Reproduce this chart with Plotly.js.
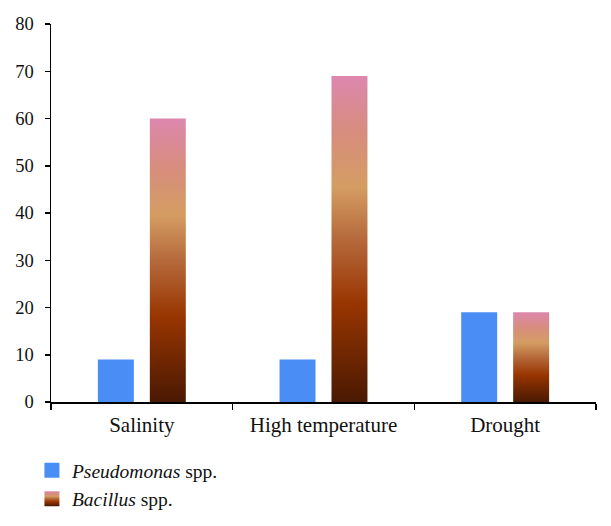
<!DOCTYPE html>
<html>
<head>
<meta charset="utf-8">
<script src="https://cdn.plot.ly/plotly-3.0.1.min.js"></script>
<style>
  html, body { margin: 0; padding: 0; background: #fff; }
  #chart { width: 611px; height: 526px; }
</style>
</head>
<body>
<div id="chart"></div>
<script>
// stress conditions
var stresses = ['Salinity', 'High temperature', 'Drought'];
var pseudomonas = [9, 9, 19];
var bacillus = [60, 69, 19];

var trace1 = {
    x: stresses,
    y: pseudomonas,
    type: 'bar',
    name: '<i>Pseudomonas</i> spp.',
    marker: { color: '#4a8ef5' },
    width: 0.198,
    offset: -0.242,
    hoverinfo: 'skip'
};

var trace2 = {
    x: stresses,
    y: bacillus,
    type: 'bar',
    name: '<i>Bacillus</i> spp.',
    marker: { color: '#b06030' },
    width: 0.198,
    offset: 0.044,
    hoverinfo: 'skip'
};

var fam = '"Liberation Serif", "DejaVu Serif", serif';

var layout = {
    width: 611,
    height: 526,
    margin: { l: 51, r: 15, t: 24, b: 124, autoexpand: false },
    paper_bgcolor: '#fff',
    plot_bgcolor: '#fff',
    font: { family: fam, size: 18, color: '#111' },
    barmode: 'group',
    showlegend: true,
    legend: {
        orientation: 'v',
        x: -0.035, xanchor: 'left',
        y: -0.13, yanchor: 'top',
        font: { family: fam, size: 19.5, color: '#111' },
        itemwidth: 30,
        tracegroupgap: 0
    },
    xaxis: {
        type: 'category',
        automargin: false,
        showline: true,
        linecolor: '#000',
        linewidth: 1.5,
        ticks: 'outside',
        tickson: 'boundaries',
        ticklen: 6,
        tickcolor: '#000',
        tickwidth: 1.5,
        showgrid: false,
        zeroline: false,
        ticklabelstandoff: 3,
        tickfont: { family: fam, size: 21, color: '#111' }
    },
    yaxis: {
        range: [0, 80],
        dtick: 10,
        automargin: false,
        showline: true,
        linecolor: '#000',
        linewidth: 1.5,
        ticks: 'outside',
        ticklen: 5,
        tickcolor: '#000',
        tickwidth: 1.5,
        showgrid: false,
        zeroline: false,
        ticklabelstandoff: 7,
        tickfont: { family: fam, size: 18.5, color: '#111' }
    }
};

var config = { displayModeBar: false, staticPlot: true };

var gd = document.getElementById('chart');
Plotly.newPlot(gd, [trace1, trace2], layout, config).then(function () {
    // bars with vertical gradient, like the original figure
    var svgNS = 'http://www.w3.org/2000/svg';
    var svg = gd.querySelector('.main-svg');
    var defs = svg.querySelector('defs') || svg.insertBefore(document.createElementNS(svgNS, 'defs'), svg.firstChild);
    var grad = document.createElementNS(svgNS, 'linearGradient');
    grad.setAttribute('id', 'bacGrad');
    grad.setAttribute('x1', '0'); grad.setAttribute('y1', '1');
    grad.setAttribute('x2', '0'); grad.setAttribute('y2', '0');
    var stops = [
        [0, '#4a1902'], [0.3, '#983500'], [0.5, '#b66a3c'],
        [0.66, '#d49d62'], [0.83, '#d78d7e'], [1, '#dd87ae']
    ];
    stops.forEach(function (s) {
        var st = document.createElementNS(svgNS, 'stop');
        st.setAttribute('offset', s[0]);
        st.setAttribute('stop-color', s[1]);
        grad.appendChild(st);
    });
    defs.appendChild(grad);

    var traces = gd.querySelectorAll('.barlayer .trace');
    traces[1].querySelectorAll('path').forEach(function (p) {
        p.style.fill = 'url(#bacGrad)';
    });
    // bigger legend squares
    var legs = gd.querySelectorAll('.legend .traces');
    legs.forEach(function (lg, i) {
        lg.querySelectorAll('.legendpoints path').forEach(function (p) {
            p.setAttribute('d', 'M7.5,7.5H-7.5V-7.5H7.5Z');
            if (i === 1) p.style.fill = 'url(#bacGrad)';
        });
    });
});
</script>
</body>
</html>
